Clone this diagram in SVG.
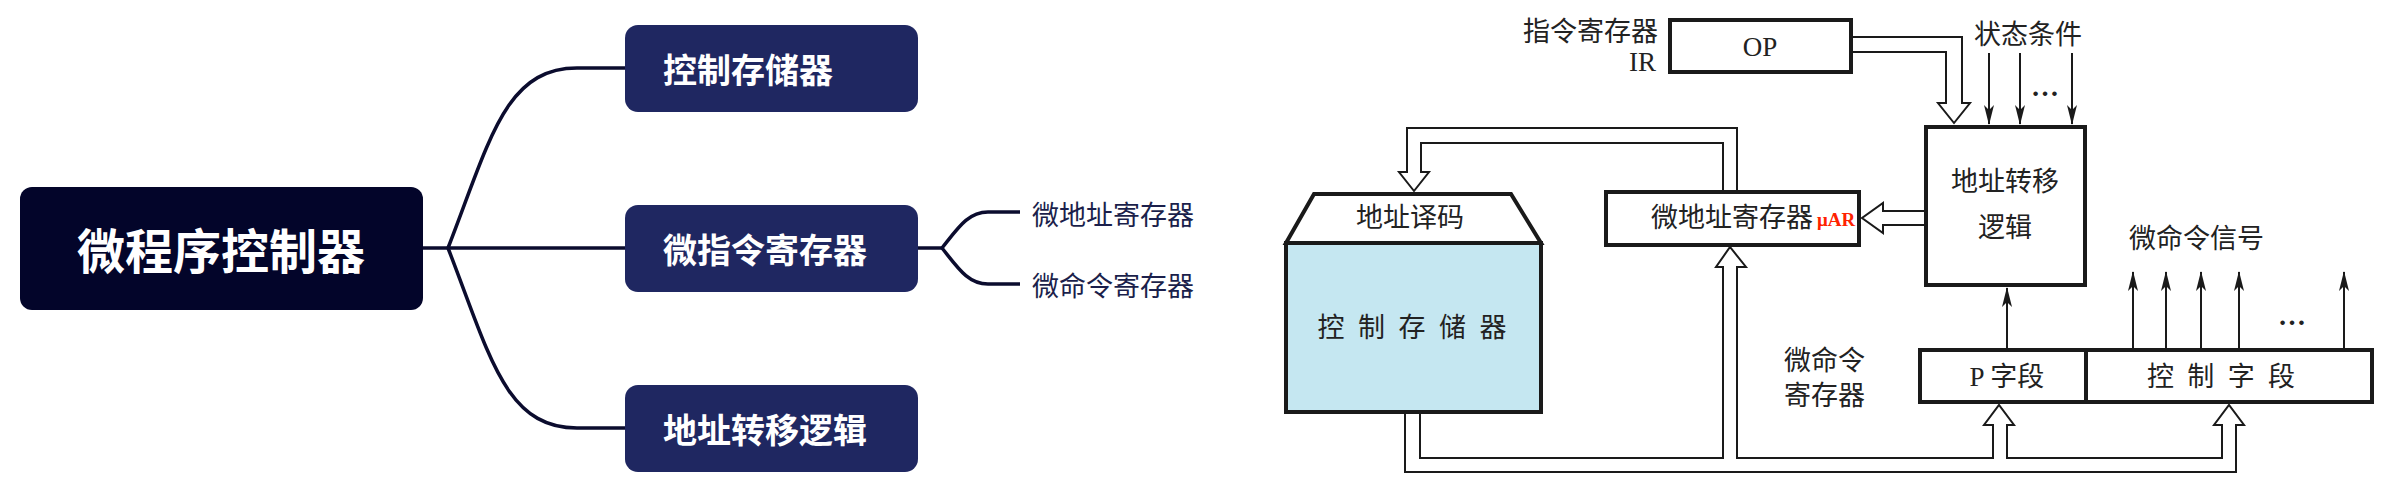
<svg xmlns="http://www.w3.org/2000/svg" width="2388" height="492" viewBox="0 0 2388 492">
<style>
.mm{font-family:"Noto Sans CJK SC","Noto Sans",sans-serif;font-weight:bold;fill:#ffffff;dominant-baseline:central}
.leaf{font-family:"Noto Sans CJK SC","Noto Sans",sans-serif;font-size:27px;fill:#1b1f4b;dominant-baseline:central}
.mmline{fill:none;stroke:#0b0c2e;stroke-width:3.5}
.t{font-family:"Liberation Serif","Noto Sans CJK SC",serif;font-size:27px;fill:#222222;dominant-baseline:central}
.box{fill:#ffffff;stroke:#1a1a1a;stroke-width:4}
.bus{fill:#ffffff;stroke:#1a1a1a;stroke-width:2;stroke-linejoin:miter}
.sig{stroke:#1a1a1a;stroke-width:2;marker-end:url(#ah)}
.dots{font-family:"Liberation Serif",serif;font-size:28px;font-weight:bold;fill:#222222;text-anchor:middle;dominant-baseline:central}
</style>
<defs>
<marker id="ah" markerUnits="userSpaceOnUse" markerWidth="20" markerHeight="10" refX="19" refY="5" orient="auto">
<path d="M0,0 L20,5 L0,10 L5,5 Z" fill="#1a1a1a"/>
</marker>
</defs>
<rect width="2388" height="492" fill="#ffffff"/>

<g id="connectors">
<path class="mmline" d="M422,248 H448"/>
<path class="mmline" d="M448,248 C490,140 505,68 577,68 H625"/>
<path class="mmline" d="M448,248 H625"/>
<path class="mmline" d="M448,248 C490,356 505,428 577,428 H625"/>
<path class="mmline" d="M917,248 H942"/>
<path class="mmline" d="M942,248 C958,228 968,212 988,212 H1020"/>
<path class="mmline" d="M942,248 C958,268 968,284 988,284 H1020"/>
<polyline class="bus" points="1852,37 1962,37 1962,103 1970,103 1954,123 1938,103 1946,103 1946,52 1852,52"/>
<polyline class="bus" points="1924,211 1883,211 1883,203 1862,218 1883,233 1883,225 1924,225"/>
<polyline class="bus" points="1737,191 1737,128 1407,128 1407,172 1399,172 1414,191 1429,172 1421,172 1421,143 1723,143 1723,191"/>
<polyline class="bus" points="1405,414 1405,472 2236,472 2236,425 2244,425 2229,405 2214,425 2222,425 2222,458 2007,458 2007,425 2014,425 1999,405 1984,425 1993,425 1993,458 1737,458 1737,267 1746,267 1730,247 1716,267 1723,267 1723,458 1420,458 1420,414"/>
<line class="sig" x1="1989" y1="53" x2="1989" y2="124"/>
<line class="sig" x1="2020" y1="53" x2="2020" y2="124"/>
<line class="sig" x1="2072" y1="53" x2="2072" y2="124"/>
<line class="sig" x1="2007" y1="348" x2="2007" y2="288"/>
<line class="sig" x1="2133" y1="348" x2="2133" y2="272"/>
<line class="sig" x1="2166" y1="348" x2="2166" y2="272"/>
<line class="sig" x1="2201" y1="348" x2="2201" y2="272"/>
<line class="sig" x1="2239" y1="348" x2="2239" y2="272"/>
<line class="sig" x1="2344" y1="348" x2="2344" y2="272"/>
</g>

<g id="root">
<rect x="20" y="187" width="403" height="123" rx="12" fill="#03052a"/>
<text class="mm" x="221" y="248" font-size="48" text-anchor="middle">微程序控制器</text>
</g>
<g id="child-control-store">
<rect x="625" y="25" width="293" height="87" rx="13" fill="#1f2761"/>
<text class="mm" x="663" y="68" font-size="34">控制存储器</text>
</g>
<g id="child-micro-ir">
<rect x="625" y="205" width="293" height="87" rx="13" fill="#1f2761"/>
<text class="mm" x="663" y="248" font-size="34">微指令寄存器</text>
</g>
<g id="child-addr-logic">
<rect x="625" y="385" width="293" height="87" rx="13" fill="#1f2761"/>
<text class="mm" x="663" y="428" font-size="34">地址转移逻辑</text>
</g>
<g id="leaf-mar">
<text class="leaf" x="1032" y="213">微地址寄存器</text>
</g>
<g id="leaf-mcr">
<text class="leaf" x="1032" y="284">微命令寄存器</text>
</g>

<g id="ir">
<rect class="box" x="1670" y="20" width="181" height="52"/>
<text class="t" x="1760" y="47" font-size="28" text-anchor="middle">OP</text>
<text class="t" x="1658" y="32" font-size="26" text-anchor="end">指令寄存器</text>
<text class="t" x="1656" y="62" font-size="27" text-anchor="end">IR</text>
</g>
<g id="status">
<text class="t" x="2028" y="35" text-anchor="middle">状态条件</text>
<text class="dots" x="2045" y="86">…</text>
</g>
<g id="addr-transfer-logic">
<rect class="box" x="1926" y="127" width="159" height="158"/>
<text class="t" x="2005" y="182" text-anchor="middle">地址转移</text>
<text class="t" x="2005" y="228" text-anchor="middle">逻辑</text>
</g>
<g id="micro-addr-reg">
<rect class="box" x="1606" y="192" width="253" height="53"/>
<text class="t" x="1651" y="218">微地址寄存器</text>
<text x="1817" y="219" font-family="Liberation Serif,serif" font-size="19" font-weight="bold" fill="#ff2200" dominant-baseline="central">μAR</text>
</g>
<g id="control-store">
<polygon class="box" points="1314,194 1511,194 1541,243 1286,243"/>
<rect x="1286" y="243" width="255" height="169" fill="#c5e7f1" stroke="#1a1a1a" stroke-width="4"/>
<text class="t" x="1410" y="218" text-anchor="middle">地址译码</text>
<text class="t" x="1412" y="328" text-anchor="middle" textLength="189" lengthAdjust="spacing">控 制 存 储 器</text>
</g>
<g id="micro-cmd-signal">
<text class="t" x="2129" y="239">微命令信号</text>
<text class="dots" x="2292" y="315">…</text>
</g>
<g id="micro-instr-reg">
<rect class="box" x="1920" y="350" width="452" height="52"/>
<line x1="2086" y1="350" x2="2086" y2="402" stroke="#1a1a1a" stroke-width="4"/>
<text class="t" x="2007" y="377" text-anchor="middle">P 字段</text>
<text class="t" x="2221" y="377" text-anchor="middle" textLength="148" lengthAdjust="spacing">控 制 字 段</text>
<text class="t" x="1784" y="361" font-size="26">微命令</text>
<text class="t" x="1784" y="396" font-size="26">寄存器</text>
</g>
</svg>
